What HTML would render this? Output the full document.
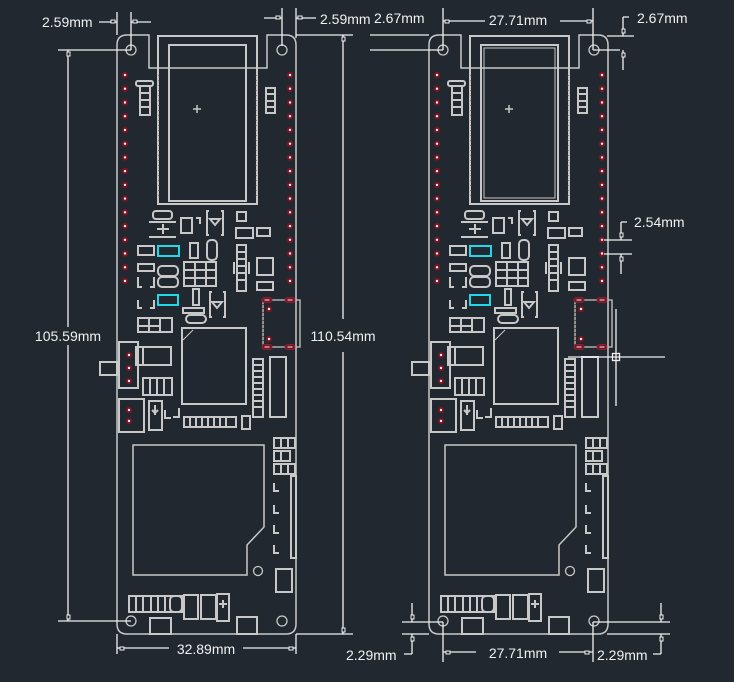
<!DOCTYPE html>
<html><head><meta charset="utf-8"><style>
html,body{margin:0;padding:0;background:#212830;}
svg{display:block}
text{font-family:"Liberation Sans",sans-serif;font-size:14px;fill:#f0f0f0;}
</style></head><body>
<svg width="734" height="682" viewBox="0 0 734 682" xmlns="http://www.w3.org/2000/svg">
<rect width="734" height="682" fill="#212830"/>
<defs>
<g id="pin"><circle r="3.3" fill="#741424"/><circle r="1.2" fill="#f4f4f4"/></g>
<g id="pad"><rect x="-5" y="-2.5" width="10" height="5" rx="2.5" fill="#741424" stroke="#a02030" stroke-width="0.8"/><path d="M-2.5 0h5" stroke="#f0f0f0" stroke-width="1"/></g>
<g id="board" fill="none" stroke="#c8c8c8" stroke-width="2">
 <path d="M117 45 Q117 35 127 35 L149 35 L149 68 L267 68 L267 35 L286 35 Q296 35 296 45 L296 624 Q296 634 286 634 L127 634 Q117 634 117 624 Z" stroke-width="1.5"/>
 <circle cx="131" cy="50" r="5" stroke-width="1.3"/><circle cx="282" cy="50" r="5" stroke-width="1.3"/>
 <circle cx="131" cy="621" r="5" stroke-width="1.3"/><circle cx="282" cy="621" r="5" stroke-width="1.3"/>
 <rect x="158" y="36" width="99" height="168"/>
 <rect x="169" y="45" width="77" height="156"/>
 <path d="M197 105v8M193 109h8" stroke-width="1.5"/>
 <path d="M159 75v125M256 75v125" stroke="#7a2630" stroke-width="1" stroke-dasharray="1 4"/>
 <rect x="136" y="81" width="17" height="5" rx="2"/>
 <rect x="140" y="86" width="10" height="29"/><path d="M140 93h10M140 100h10M140 107h10"/>
 <rect x="266" y="88" width="9" height="25"/><path d="M266 94h9M266 101h9M266 107h9"/>
 <rect x="153" y="211" width="19" height="8" rx="3"/>
 <path d="M149 222h27M149 237h27M157 229h12M163 224v10"/>
 <rect x="181" y="218" width="11" height="15"/><path d="M196 218h4v6"/>
 <path d="M209 211h-2v24h2M221 211h2v24h-2M210 219h10l-5 6z"/>
 <rect x="237" y="212" width="9" height="9"/>
 <rect x="236" y="228" width="17" height="10"/><rect x="257" y="228" width="13" height="8"/>
 <rect x="138" y="246" width="16" height="9"/>
 <rect x="158" y="246" width="21" height="10" stroke="#21d8e8"/>
 <rect x="138" y="264" width="16" height="7"/>
 <path d="M138 277v10h4M154 277v10h-4" />
 <rect x="158" y="266" width="20" height="10" rx="4"/><rect x="158" y="277" width="20" height="10" rx="4"/>
 <rect x="190" y="243" width="8" height="15"/>
 <rect x="207" y="240" width="10" height="20" rx="4"/>
 <rect x="184" y="262" width="32" height="24"/><path d="M184 270h32M184 278h32M195 262v24M206 262v24"/>
 <rect x="158" y="295" width="20" height="10" stroke="#21d8e8"/>
 <path d="M138 300v8h4M154 300v8h-4"/>
 <rect x="193" y="289" width="6" height="16"/>
 <rect x="183" y="308" width="21" height="5"/><rect x="186" y="315" width="20" height="8" rx="4"/>
 <path d="M212 292h-2v25h2M223 292h2v25h-2M212 302h10l-5 6z"/>
 <rect x="237" y="245" width="9" height="46"/><path d="M237 252h9M237 259h9M237 266h9M237 273h9M237 280h9M234 262v12M249 262v12"/>
 <rect x="257" y="258" width="16" height="17"/>
 <rect x="257" y="282" width="16" height="8"/>
 <path d="M263 300h37v47h-37z" stroke-width="1.3"/>
 <path d="M263 300v46" stroke="#8a2a30" stroke-dasharray="1 3" stroke-width="1"/>
 <rect x="138" y="318" width="34" height="14"/><path d="M149 318v14M160 318v14M138 326h22"/>
 <rect x="182" y="328" width="64" height="76"/><path d="M183 340l10 -10" stroke-width="1"/>
 <rect x="253" y="359" width="10" height="58"/><path d="M253 365h10M253 371h10M253 377h10M253 383h10M253 389h10M253 395h10M253 401h10M253 407h10"/>
 <rect x="270" y="357" width="16" height="60"/>
 <rect x="119" y="342" width="19" height="46"/><rect x="100" y="362" width="17" height="13"/>
 <rect x="136" y="347" width="35" height="18"/><path d="M143 347v18"/>
 <rect x="143" y="378" width="29" height="17"/><path d="M150 378v17M157 378v17M164 378v17"/>
 <rect x="119" y="399" width="25" height="33"/>
 <rect x="149" y="401" width="13" height="29"/><path d="M152 410l3 3l3 -3M155 405v10"/>
 <path d="M165 410v8h6M179 408v9h-6"/>
 <rect x="184" y="417" width="52" height="10"/><path d="M190 417v10M196 417v10M202 417v10M208 417v10M214 417v10M220 417v10M226 417v10"/>
 <rect x="242" y="416" width="8" height="13"/>
 <path d="M133 445h131v82l-17 18v30h-114z" stroke-width="1.5"/>
 <circle cx="258" cy="571" r="4.5" stroke-width="1.3"/>
 <rect x="274" y="438" width="21" height="10"/><path d="M281 438v10M288 438v10"/>
 <rect x="274" y="451" width="16" height="10"/><path d="M281 451v10"/>
 <rect x="274" y="464" width="21" height="10"/><path d="M281 464v10M288 464v10"/>
 <rect x="291" y="476" width="5" height="82"/>
 <path d="M274 483v8h5M274 505v8h5M274 525v8h5M274 545v8h5"/>
 <rect x="276" y="569" width="16" height="23"/>
 <rect x="129" y="596" width="53" height="16"/><path d="M136 596v16M143 596v16M151 596v16M158 596v16M165 596v16"/>
 <rect x="170" y="596" width="12" height="16" rx="4"/>
 <rect x="184" y="595" width="14" height="24"/><rect x="201" y="595" width="15" height="24"/>
 <rect x="217" y="594" width="12" height="27"/><path d="M219 604h8M223 600v8"/>
 <rect x="150" y="618" width="21" height="16"/><rect x="237" y="617" width="20" height="17"/>
</g>
<g id="col">
  <use href="#pin" y="75"/><use href="#pin" y="88.7"/><use href="#pin" y="102.5"/><use href="#pin" y="116.2"/>
  <use href="#pin" y="129.9"/><use href="#pin" y="143.7"/><use href="#pin" y="157.4"/><use href="#pin" y="171.1"/>
  <use href="#pin" y="184.9"/><use href="#pin" y="198.6"/><use href="#pin" y="212.3"/><use href="#pin" y="226.1"/>
  <use href="#pin" y="239.8"/><use href="#pin" y="253.5"/><use href="#pin" y="267.3"/><use href="#pin" y="281"/>
</g>
<g id="extras">
 <use href="#col" x="125"/><use href="#col" x="290"/>
 <use href="#pin" x="129" y="355"/><use href="#pin" x="129" y="368"/><use href="#pin" x="129" y="381"/>
 <use href="#pin" x="129" y="410"/><use href="#pin" x="129" y="421"/>
 <use href="#pad" x="267" y="300"/><use href="#pad" x="290" y="300"/>
 <use href="#pad" x="267" y="347"/><use href="#pad" x="290" y="347"/>
 <use href="#pin" x="269" y="309"/><use href="#pin" x="269" y="339"/>
</g>
</defs>

<use href="#board"/>
<use href="#extras"/>
<g transform="translate(312 0)">
 <use href="#board"/>
 <use href="#extras"/>
 <rect x="172" y="48" width="71" height="150" fill="none" stroke="#c8c8c8" stroke-width="1"/>
</g>

<g stroke="#f0f0f0" stroke-width="1.3" fill="none">
 <path d="M117 12v23M131 12v38M99 22h18M131 22h20M282 8v38M296 8v30M264 18h18M296 18h20"/>
 <path d="M58 50h73M58 621h73M68 50v277M68 345v276M296 35h57M296 634h57M343 35v284M343 352v282"/>
 <path d="M117 634v20M296 634v20M117 648h52M243 648h53"/>
 <path d="M443 8v42M593 8v42M443 21h42M560 21h33M370 35h59M370 50h73M607 36h27M593 50h27M623 17v19M623 50v20M623 17h6"/>
 <path d="M604 240h28M604 254h28M621 222v18M621 254v20M621 222h6"/>
 <path d="M616 309v97M568 357h97"/>
 <rect x="612.5" y="353.5" width="7" height="7"/>
 <path d="M402 622h41M402 634h27M593 622h77M607 634h63M412 603v19M412 634v20M661 603v19M661 634v20M404 654h8M653 654h8"/>
 <path d="M443 622v40M593 622v40M443 652h33M559 652h34"/>
</g>
<g fill="#212830" stroke="#f0f0f0" stroke-width="1">
 <rect x="111" y="20" width="4" height="3"/><rect x="133" y="20" width="4" height="3"/>
 <rect x="276" y="16" width="4" height="3"/><rect x="298" y="16" width="4" height="3"/>
 <rect x="67" y="52" width="3" height="4"/><rect x="67" y="615" width="3" height="4"/>
 <rect x="342" y="37" width="3" height="4"/><rect x="342" y="628" width="3" height="4"/>
 <rect x="120" y="647" width="4" height="3"/><rect x="289" y="647" width="4" height="3"/>
 <rect x="445" y="20" width="4" height="3"/><rect x="587" y="20" width="4" height="3"/>
 <rect x="622" y="29" width="3" height="4"/><rect x="622" y="53" width="3" height="4"/>
 <rect x="620" y="233" width="3" height="4"/><rect x="620" y="257" width="3" height="4"/>
 <rect x="411" y="615" width="3" height="4"/><rect x="411" y="637" width="3" height="4"/>
 <rect x="660" y="615" width="3" height="4"/><rect x="660" y="637" width="3" height="4"/>
 <rect x="446" y="651" width="4" height="3"/><rect x="585" y="651" width="4" height="3"/>
</g>
<text x="42" y="27">2.59mm</text>
<text x="320" y="24">2.59mm</text>
<text x="68" y="341" text-anchor="middle">105.59mm</text>
<text x="343" y="341" text-anchor="middle">110.54mm</text>
<text x="206" y="654" text-anchor="middle">32.89mm</text>
<text x="374" y="23">2.67mm</text>
<text x="518" y="25" text-anchor="middle">27.71mm</text>
<text x="637" y="23">2.67mm</text>
<text x="634" y="227">2.54mm</text>
<text x="346" y="660">2.29mm</text>
<text x="518" y="658" text-anchor="middle">27.71mm</text>
<text x="597" y="660">2.29mm</text>
</svg>
</body></html>
